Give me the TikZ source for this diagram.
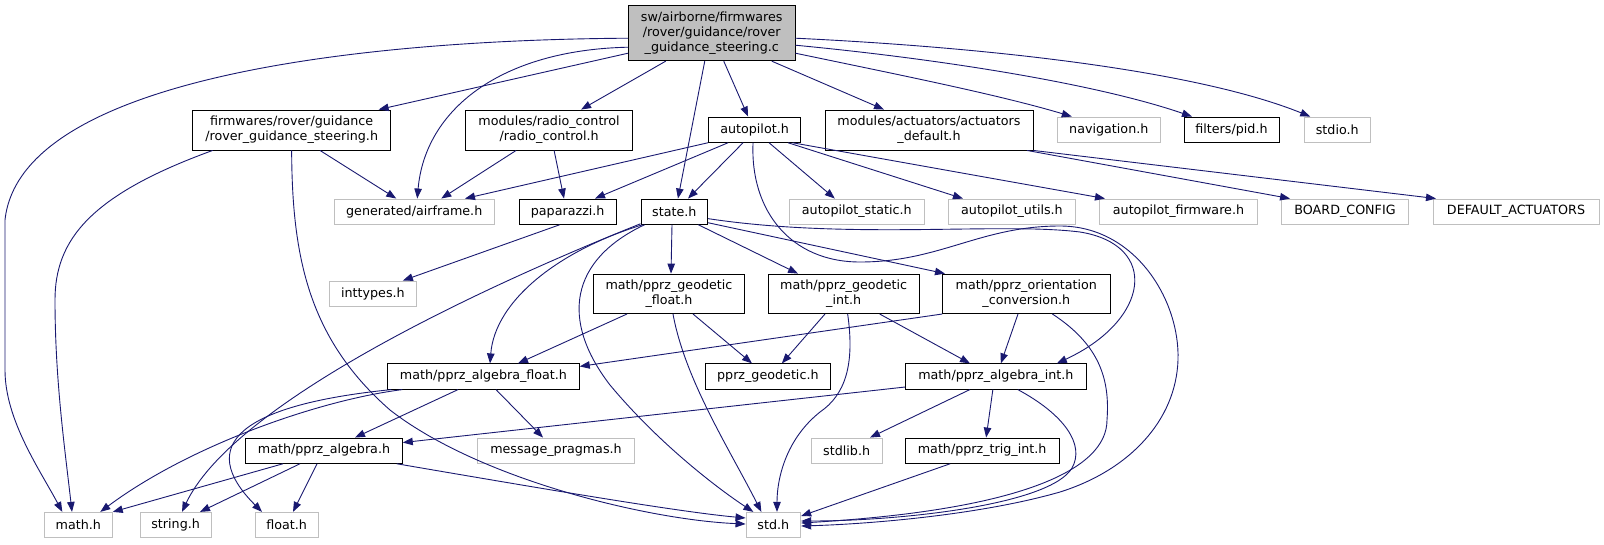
\documentclass[tikz,border=0pt]{standalone}
\usepackage{fontspec}
\setmainfont{DejaVu Sans}
\usetikzlibrary{arrows.meta}
\definecolor{edgeblue}{HTML}{191970}
\definecolor{greyb}{HTML}{BFBFBF}
\begin{document}
\begin{tikzpicture}[x=1pt,y=-1pt,
 box/.style={draw=black,line width=0.9pt,fill=white,inner sep=0pt,align=center,font=\fontsize{12.7pt}{14.7pt}\selectfont},
 gbox/.style={box,draw=greyb},
 inc/.style={draw=edgeblue,line width=0.9pt,-{Triangle[length=10pt,width=7.5pt]}},
]
\useasboundingbox (0,0) rectangle (1604,544);
% row 0
\node[box,fill=greyb,minimum width=166.5pt,minimum height=55pt] (root) at (711.75,33.2) {sw/airborne/firmwares\\/rover/guidance/rover\\\_guidance\_steering.c};
% row 1
\node[box,minimum width=198.3pt,minimum height=40pt] (rgsh) at (291.65,130) {firmwares/rover/guidance\\/rover\_guidance\_steering.h};
\node[box,minimum width=167pt,minimum height=40pt] (radio) at (549.1,130) {modules/radio\_control\\/radio\_control.h};
\node[box,minimum width=92.3pt,minimum height=25.3pt] (autop) at (754.55,129.65) {autopilot.h};
\node[box,minimum width=208pt,minimum height=40pt] (act) at (929,130) {modules/actuators/actuators\\\_default.h};
\node[gbox,minimum width=103.6pt,minimum height=25.3pt] (nav) at (1108.8,129.65) {navigation.h};
\node[box,minimum width=95pt,minimum height=25.3pt] (pid) at (1231.5,129.65) {filters/pid.h};
\node[gbox,minimum width=66.5pt,minimum height=25.3pt] (stdio) at (1337.25,129.65) {stdio.h};
% row 2
\node[gbox,minimum width=160.5pt,minimum height=25.3pt] (airf) at (414.25,211.65) {generated/airframe.h};
\node[box,minimum width=97.4pt,minimum height=25.3pt] (papa) at (567.7,211.65) {paparazzi.h};
\node[box,minimum width=66.7pt,minimum height=25.3pt] (state) at (674.35,211.65) {state.h};
\node[gbox,minimum width=135.6pt,minimum height=25.3pt] (apstatic) at (856.8,211.65) {autopilot\_static.h};
\node[gbox,minimum width=127.1pt,minimum height=25.3pt] (aputils) at (1011.95,211.65) {autopilot\_utils.h};
\node[gbox,minimum width=157.8pt,minimum height=25.3pt] (apfw) at (1178.5,211.65) {autopilot\_firmware.h};
\node[gbox,minimum width=126.7pt,minimum height=25.3pt] (board) at (1345.05,211.65) {BOARD\_CONFIG};
\node[gbox,minimum width=166pt,minimum height=25.3pt] (defact) at (1516,211.65) {DEFAULT\_ACTUATORS};
% row 3
\node[gbox,minimum width=86.8pt,minimum height=25.3pt] (intt) at (372.9,293.65) {inttypes.h};
\node[box,minimum width=150.6pt,minimum height=39.5pt] (geof) at (669,293.8) {math/pprz\_geodetic\\\_float.h};
\node[box,minimum width=150.7pt,minimum height=39.5pt] (geoi) at (843.65,293.8) {math/pprz\_geodetic\\\_int.h};
\node[box,minimum width=167.3pt,minimum height=39.5pt] (orient) at (1026.35,293.8) {math/pprz\_orientation\\\_conversion.h};
% row 4
\node[box,minimum width=191.6pt,minimum height=25.3pt] (algf) at (483.5,376.5) {math/pprz\_algebra\_float.h};
\node[box,minimum width=125.7pt,minimum height=25.3pt] (pgeo) at (767.85,376.5) {pprz\_geodetic.h};
\node[box,minimum width=180.3pt,minimum height=25.3pt] (algi) at (995.85,376.5) {math/pprz\_algebra\_int.h};
% row 5
\node[box,minimum width=156.6pt,minimum height=25.3pt] (alg) at (324,450.65) {math/pprz\_algebra.h};
\node[gbox,minimum width=157.4pt,minimum height=25.3pt] (msgp) at (556,450.65) {message\_pragmas.h};
\node[gbox,minimum width=70.7pt,minimum height=25.3pt] (stdlib) at (846.65,450.65) {stdlib.h};
\node[box,minimum width=153.7pt,minimum height=25.3pt] (trig) at (982.15,450.65) {math/pprz\_trig\_int.h};
% row 6
\node[gbox,minimum width=68pt,minimum height=25.3pt] (math) at (78.3,525) {math.h};
\node[gbox,minimum width=70.7pt,minimum height=25.3pt] (string) at (175.65,525) {string.h};
\node[gbox,minimum width=62.7pt,minimum height=25.3pt] (float) at (286.65,525) {float.h};
\node[gbox,minimum width=54.7pt,minimum height=25.3pt] (std) at (773.35,525) {std.h};

% edges from root
\draw[inc] ([yshift=-5pt]root.west) .. controls (350,40) and (20,80) .. (5,220) -- (5,370) .. controls (5,420) and (40,470) .. ([xshift=-16pt]math.north);
\draw[inc] ([yshift=-20pt]root.west) -- ([xshift=87pt]rgsh.north);
\draw[inc] ([yshift=-14pt]root.west) .. controls (500,50) and (425,110) .. ([xshift=3pt]airf.north);
\draw[inc] ([xshift=-46pt]root.south) -- ([xshift=32pt]radio.north);
\draw[inc] ([xshift=-7pt]root.south) -- ([xshift=3.6pt]state.north);
\draw[inc] ([xshift=12pt]root.south) -- ([xshift=-6.5pt]autop.north);
\draw[inc] ([xshift=60pt]root.south) -- ([xshift=-45pt]act.north);
\draw[inc] ([yshift=-20pt]root.east) .. controls (900,75) and (1000,95) .. ([xshift=-37pt]nav.north);
\draw[inc] ([yshift=-12pt]root.east) .. controls (950,60) and (1100,85) .. ([xshift=-39.5pt]pid.north);
\draw[inc] ([yshift=-5pt]root.east) .. controls (1000,48) and (1200,72) .. ([xshift=-27pt]stdio.north);

% rover_guidance_steering.h
\draw[inc] ([xshift=-79pt]rgsh.south) .. controls (90,195) and (55,240) .. (55,300) .. controls (55,380) and (65,450) .. ([xshift=-6.3pt]math.north);
\draw[inc] (rgsh.south) .. controls (292,260) and (310,340) .. (390,410) .. controls (480,480) and (650,520) .. ([yshift=1pt]std.west);
\draw[inc] ([xshift=28.35pt]rgsh.south) -- ([xshift=-18pt]airf.north);

% radio_control.h
\draw[inc] ([xshift=-33pt]radio.south) -- ([xshift=27pt]airf.north);
\draw[inc] ([xshift=5pt]radio.south) -- ([xshift=-3.7pt]papa.north);

% autopilot.h
\draw[inc] (autop.south west) -- ([xshift=50.75pt]airf.north);
\draw[inc] ([xshift=-26.5pt]autop.south) -- ([xshift=27.3pt]papa.north);
\draw[inc] ([xshift=-11.5pt]autop.south) -- ([xshift=13.65pt]state.north);
\draw[inc] ([xshift=14.5pt]autop.south) -- ([xshift=-22pt]apstatic.north);
\draw[inc] ([xshift=33.5pt]autop.south) -- ([xshift=-49pt]aputils.north);
\draw[inc] ([xshift=38pt]autop.south) -- ([xshift=-73.5pt]apfw.north);
\draw[inc] ([xshift=-1.5pt]autop.south) .. controls (750,210) and (790,262) .. (860,262) .. controls (940,262) and (980,226) .. (1060,226) .. controls (1135,226) and (1180,300) .. (1178,360) .. controls (1176,420) and (1130,470) .. (1060,492) .. controls (980,515) and (870,524) .. ([yshift=-1pt]std.east);

% actuators_default.h
\draw[inc] ([xshift=98pt]act.south) -- ([xshift=-55pt]board.north);
\draw[inc] (act.south east) -- ([xshift=-80pt]defact.north);

% paparazzi.h
\draw[inc] ([xshift=-8pt]papa.south) -- ([xshift=30pt]intt.north);

% state.h
\draw[inc] ([yshift=1pt]state.south west) .. controls (450,300) and (230,410) .. ([xshift=6.35pt]string.north);
\draw[inc] ([xshift=2pt]state.south west) .. controls (560,250) and (495,300) .. ([xshift=6.5pt]algf.north);
\draw[inc] ([xshift=4pt]state.south west) .. controls (570,260) and (560,320) .. (610,385) .. controls (660,445) and (720,490) .. ([xshift=-20pt]std.north);
\draw[inc] ([xshift=-2.35pt]state.south) -- ([xshift=2pt]geof.north);
\draw[inc] ([xshift=24pt]state.south) -- ([xshift=-45.65pt]geoi.north);
\draw[inc] ([yshift=2pt]state.south east) -- ([xshift=-81.35pt]orient.north);
\draw[inc] ([yshift=-7pt]state.east) .. controls (850,240) and (1000,222) .. (1080,232) .. controls (1160,245) and (1150,320) .. ([xshift=61pt]algi.north);

% geodetic float
\draw[inc] ([xshift=-42pt]geof.south) -- ([xshift=34.5pt]algf.north);
\draw[inc] ([xshift=4pt]geof.south) .. controls (685,380) and (730,450) .. ([xshift=-12pt]std.north);
\draw[inc] ([xshift=24pt]geof.south) -- ([xshift=-15.85pt]pgeo.north);

% geodetic int
\draw[inc] ([xshift=-18.65pt]geoi.south) -- ([xshift=14pt]pgeo.north);
\draw[inc] ([xshift=4pt]geoi.south) .. controls (855,365) and (845,395) .. (820,412) .. controls (785,440) and (777,480) .. ([xshift=3.65pt]std.north);
\draw[inc] ([xshift=36pt]geoi.south) -- ([xshift=-25.85pt]algi.north);

% orientation conversion
\draw[inc] (orient.south west) -- ([yshift=-3pt]algf.north east);
\draw[inc] ([xshift=-8.35pt]orient.south) -- ([xshift=5pt]algi.north);
\draw[inc] ([xshift=26pt]orient.south) .. controls (1100,345) and (1110,380) .. (1107,420) .. controls (1107,470) and (1020,510) .. ([yshift=2pt]std.east);

% algebra int
\draw[inc] ([yshift=-10.5pt]algi.west) -- ([yshift=-5pt]alg.north east);
\draw[inc] ([xshift=-26pt]algi.south) -- ([xshift=23.35pt]stdlib.north);
\draw[inc] ([xshift=-3pt]algi.south) -- ([xshift=4pt]trig.north);
\draw[inc] ([xshift=22pt]algi.south) .. controls (1065,415) and (1085,445) .. (1072,468) .. controls (1050,505) and (900,521) .. ([yshift=4pt]std.east);

% trig int
\draw[inc] ([xshift=-32pt]trig.south) -- ([yshift=9pt]std.east);

% algebra float
\draw[inc] ([xshift=15pt]algf.south west) .. controls (320,400) and (190,445) .. ([xshift=22pt]math.north);
\draw[inc] ([xshift=4pt]algf.south west) .. controls (240,405) and (195,445) .. ([xshift=-24.65pt]float.north);
\draw[inc] ([xshift=-25.5pt]algf.south) -- ([xshift=31pt]alg.north);
\draw[inc] ([xshift=12.5pt]algf.south) -- ([xshift=-13pt]msgp.north);

% algebra
\draw[inc] ([xshift=-41pt]alg.south) -- (math.north east);
\draw[inc] ([xshift=-24pt]alg.south) -- ([xshift=24.35pt]string.north);
\draw[inc] ([xshift=-7pt]alg.south) -- ([xshift=6.35pt]float.north);
\draw[inc] ([xshift=-6pt]alg.south east) .. controls (550,490) and (680,512) .. ([yshift=7pt]std.west);
\end{tikzpicture}
\end{document}
